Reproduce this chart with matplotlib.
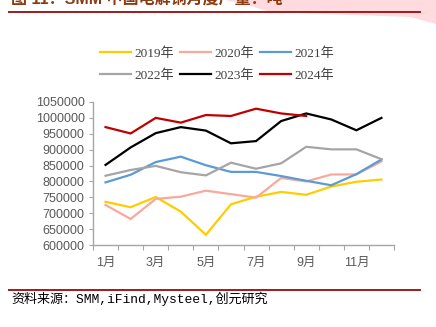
import matplotlib
matplotlib.use("Agg")
import matplotlib.pyplot as plt
from matplotlib.patches import Polygon
from matplotlib.lines import Line2D
import numpy as np

# monthly output, tonnes
months = ["1月", "2月", "3月", "4月", "5月", "6月", "7月", "8月", "9月", "10月", "11月", "12月"]
y2019 = [736000, 719000, 751000, 705000, 632000, 728000, 752000, 767000, 758000, 784000, 799000, 806000]
y2020 = [726000, 682000, 745000, 752000, 771000, 760000, 749000, 811000, 800000, 822000, 822000, 863000]
y2021 = [797000, 821000, 861000, 878000, 851000, 830000, 830000, 817000, 802000, 788000, 823000, 869000]
y2022 = [818000, 836000, 849000, 829000, 819000, 859000, 840000, 857000, 909000, 901000, 901000, 870000]
y2023 = [852000, 907000, 952000, 971000, 960000, 920000, 927000, 990000, 1014000, 995000, 961000, 1000000]
y2024 = [971000, 951000, 1000000, 985000, 1009000, 1006000, 1029000, 1014000, 1006000]

series = [("2019年", y2019, "#FFCC00"),
          ("2020年", y2020, "#F9A99B"),
          ("2021年", y2021, "#5B9BD5"),
          ("2022年", y2022, "#A5A5A5"),
          ("2023年", y2023, "#000000"),
          ("2024年", y2024, "#C00000")]

sans = ["Liberation Sans", "Noto Sans CJK SC"]
serif = ["Liberation Serif", "Noto Sans CJK SC"]

fig = plt.figure(figsize=(4.36, 3.27), dpi=100)

# pink banner in the top right corner
fig.patches.append(Polygon([(225 / 436, 1), (1, 1), (1, 1 - 24 / 327), (410 / 436, 1 - 17 / 327),
                            (270 / 436, 1 - 12 / 327), (245 / 436, 1 - 4 / 327)],
                           closed=True, transform=fig.transFigure, facecolor="#FFDADF",
                           edgecolor="none", zorder=0))

fig.text(11 / 436, 1 - 3.5 / 327, "图 11：SMM 中国电解铜月度产量：吨", fontsize=11.5,
         fontweight="bold", color="#8B3A12", va="baseline", ha="left",
         family=["Liberation Sans", "Noto Sans CJK SC"])
fig.add_artist(Line2D([9 / 436, 420 / 436], [1 - 12 / 327, 1 - 12 / 327],
                      transform=fig.transFigure, color="#9E1B1B", lw=1.4))
fig.add_artist(Line2D([9 / 436, 420 / 436], [1 - 289.5 / 327, 1 - 289.5 / 327],
                      transform=fig.transFigure, color="#9E1B1B", lw=1.4))
fig.text(11 / 436, 1 - 299 / 327, "资料来源：SMM,iFind,Mysteel,创元研究", fontsize=9.4,
         color="#000000", va="center", ha="left",
         family=["Liberation Mono", "Noto Sans CJK SC"])

ax = fig.add_axes([93 / 436, 1 - 245 / 327, 301 / 436, 143 / 327])
x = np.arange(len(months))
handles = {}
for name, vals, col in series:
    ln, = ax.plot(x[:len(vals)], vals, color=col, lw=1.6, label=name, solid_joinstyle="miter")
    handles[name] = ln

ax.set_xlim(-0.5, 11.5)
ax.set_ylim(600000, 1050000)
ax.set_yticks(np.arange(600000, 1050001, 50000))
ax.set_yticklabels([str(v) for v in range(600000, 1050001, 50000)], family=sans, fontsize=9,
                   color="#595959")
ax.set_xticks(np.arange(-0.5, 12, 1))
ax.set_xticklabels([])
ax.set_xticks(x[::2], minor=True)
ax.set_xticklabels(months[::2], minor=True, family=sans, fontsize=9, color="#595959")
ax.tick_params(axis="x", which="minor", length=0, pad=8.5)
ax.tick_params(axis="x", which="major", length=3.5, direction="out", color="#A6A6A6")
ax.tick_params(axis="y", length=3, direction="out", color="#A6A6A6", pad=3)
for s in ["top", "right"]:
    ax.spines[s].set_visible(False)
for s in ["left", "bottom"]:
    ax.spines[s].set_color("#A6A6A6")
    ax.spines[s].set_linewidth(1.0)

order = ["2019年", "2022年", "2020年", "2023年", "2021年", "2024年"]
fig.legend([handles[n] for n in order], order, ncol=3, loc="center",
           bbox_to_anchor=(217 / 436, 1 - 64.5 / 327), frameon=False,
           prop={"family": serif, "size": 9.5}, handlelength=2.4, handletextpad=0.25,
           columnspacing=0.4, labelspacing=0.75, labelcolor="#404040")

fig.savefig("out.png", dpi=100)
